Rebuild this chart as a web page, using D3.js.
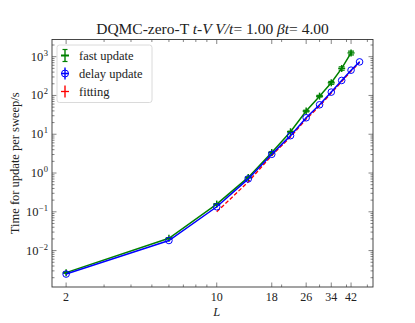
<!DOCTYPE html>
<html>
<head>
<meta charset="utf-8">
<script src="https://cdn.jsdelivr.net/npm/d3@7"></script>
<style>
  html, body { margin: 0; padding: 0; background: #fff; overflow: hidden; }
  svg { display: block; }
  text { font-family: "Liberation Serif", "DejaVu Serif", serif; fill: #222; }
</style>
<script>
var width = 415
var height = 323

// data
const fastL = [2, 6, 10, 14, 18, 22, 26, 30, 34, 38, 42];
const fastT = [0.0027, 0.0207, 0.158, 0.77, 3.4, 11.6, 39.6, 96, 212, 497, 1250];
const fastErr = [0.0001, 0.0006, 0.004, 0.02, 0.08, 0.4, 2, 5, 18, 50, 140];

const delayL = [2, 6, 10, 14, 18, 22, 26, 30, 34, 38, 42, 46];
const delayT = [0.00248, 0.0182, 0.135, 0.705, 3.04, 9.2, 26.6, 57.5, 122, 244, 449, 734];
const delayErr = [0.00005, 0.0003, 0.002, 0.01, 0.04, 0.15, 0.4, 0.9, 2, 4, 7, 12];

const fitL = [10, 14, 18, 22, 26, 30, 34, 38, 42, 46];
const fitT = [0.1, 0.59, 2.83, 8.5, 24.6, 53, 115, 228, 424, 701];

const xTickValues = [2, 10, 18, 26, 34, 42];
const xMinorTicks = [3, 4, 5, 6, 7, 8, 9, 20, 30, 40, 50];
const yExponents = [-2, -1, 0, 1, 2, 3];

const yAxisLabel = "Time for update per sweep/s";

const render = () => {
    const svg = d3.select("#chart").append("svg")
        .attr("width", width)
        .attr("height", height);

    const margin = {top: 39.5, right: 42, bottom: 36, left: 52};
    const innerWidth = width - margin.left - margin.right;
    const innerHeight = height - margin.top - margin.bottom;

    const xScale = d3.scaleLog()
        .domain([1.72, 53.1])
        .range([0, innerWidth]);

    const yScale = d3.scaleLog()
        .domain([Math.pow(10, -2.939), Math.pow(10, 3.443)])
        .range([innerHeight, 0]);

    const g = svg.append("g")
        .attr("transform", `translate(${margin.left}, ${margin.top})`);

    // minor y ticks
    let yMinor = [];
    for (let e = -3; e <= 3; e++) {
        for (let k = 2; k <= 9; k++) {
            const v = k * Math.pow(10, e);
            if (v > yScale.domain()[0] && v < yScale.domain()[1]) yMinor.push(v);
        }
    }
    const yMajor = yExponents.map(e => Math.pow(10, e));

    const tickColor = "#333";
    // ticks pointing inward on all four sides
    const drawTicks = (vals, len) => {
        vals.forEach(v => {
            const x = xScale(v);
            g.append("line").attr("x1", x).attr("x2", x).attr("y1", innerHeight).attr("y2", innerHeight - len)
                .attr("stroke", tickColor).attr("stroke-width", 0.6);
            g.append("line").attr("x1", x).attr("x2", x).attr("y1", 0).attr("y2", len)
                .attr("stroke", tickColor).attr("stroke-width", 0.6);
        });
    };
    drawTicks(xTickValues, 4.5);
    drawTicks(xMinorTicks, 2.5);

    const drawYTicks = (vals, len) => {
        vals.forEach(v => {
            const y = yScale(v);
            g.append("line").attr("x1", 0).attr("x2", len).attr("y1", y).attr("y2", y)
                .attr("stroke", tickColor).attr("stroke-width", 0.6);
            g.append("line").attr("x1", innerWidth).attr("x2", innerWidth - len).attr("y1", y).attr("y2", y)
                .attr("stroke", tickColor).attr("stroke-width", 0.6);
        });
    };
    drawYTicks(yMajor, 4.5);
    drawYTicks(yMinor, 2.5);

    // x tick labels
    xTickValues.forEach(v => {
        g.append("text")
            .attr("x", xScale(v))
            .attr("y", innerHeight + 14)
            .attr("text-anchor", "middle")
            .attr("font-size", "12px")
            .text(v);
    });

    // y tick labels 10^n (exponent as its own text)
    yExponents.forEach(e => {
        const y = yScale(Math.pow(10, e));
        const expText = e < 0 ? "\u2212" + (-e) : String(e);
        const ex = g.append("text")
            .attr("x", -4)
            .attr("y", y - 1)
            .attr("text-anchor", "end")
            .attr("font-size", "8.5px")
            .text(expText);
        const w = ex.node().getComputedTextLength();
        g.append("text")
            .attr("x", -4 - w - 0.5)
            .attr("y", y + 4)
            .attr("text-anchor", "end")
            .attr("font-size", "12.5px")
            .text("10");
    });

    // frame
    g.append("rect")
        .attr("width", innerWidth)
        .attr("height", innerHeight)
        .attr("fill", "none")
        .attr("stroke", "#333")
        .attr("stroke-width", 0.9);

    const line = d3.line()
        .x(d => xScale(d[0]))
        .y(d => yScale(d[1]));

    // fit line (dashed red)
    g.append("path")
        .attr("d", line(d3.zip(fitL, fitT)))
        .attr("fill", "none")
        .attr("stroke", "#ff0000")
        .attr("stroke-width", 1.3)
        .attr("stroke-dasharray", "4,2");

    // fast update (green)
    const green = "#008000";
    g.append("path")
        .attr("d", line(d3.zip(fastL, fastT)))
        .attr("fill", "none")
        .attr("stroke", green)
        .attr("stroke-width", 1.5);

    d3.zip(fastL, fastT, fastErr).forEach(d => {
        const x = xScale(d[0]);
        const y0 = yScale(d[1] - d[2]), y1 = yScale(d[1] + d[2]);
        g.append("line").attr("x1", x).attr("x2", x).attr("y1", y0).attr("y2", y1)
            .attr("stroke", green).attr("stroke-width", 1.2);
        [y0, y1].forEach(yy => g.append("line").attr("x1", x - 3).attr("x2", x + 3).attr("y1", yy).attr("y2", yy)
            .attr("stroke", green).attr("stroke-width", 1.2));
        const y = yScale(d[1]);
        g.append("line").attr("x1", x - 3.5).attr("x2", x + 3.5).attr("y1", y).attr("y2", y)
            .attr("stroke", green).attr("stroke-width", 1.5);
        g.append("line").attr("x1", x).attr("x2", x).attr("y1", y - 3.5).attr("y2", y + 3.5)
            .attr("stroke", green).attr("stroke-width", 1.5);
    });

    // delay update (blue)
    const blue = "#0000ff";
    g.append("path")
        .attr("d", line(d3.zip(delayL, delayT)))
        .attr("fill", "none")
        .attr("stroke", blue)
        .attr("stroke-width", 1.5);

    d3.zip(delayL, delayT, delayErr).forEach(d => {
        const x = xScale(d[0]);
        const y0 = yScale(d[1] - d[2]), y1 = yScale(d[1] + d[2]);
        g.append("line").attr("x1", x).attr("x2", x).attr("y1", y0).attr("y2", y1)
            .attr("stroke", blue).attr("stroke-width", 1.2);
        g.append("circle")
            .attr("cx", x)
            .attr("cy", yScale(d[1]))
            .attr("r", 3.3)
            .attr("fill", "none")
            .attr("stroke", blue)
            .attr("stroke-width", 1);
    });

    // legend
    const legend = svg.append("g").attr("transform", "translate(57, 45)");
    legend.append("rect")
        .attr("width", 95)
        .attr("height", 57.5)
        .attr("rx", 2.5)
        .attr("fill", "white")
        .attr("fill-opacity", 0.8)
        .attr("stroke", "#d0d0d0")
        .attr("stroke-width", 0.8);

    const legendItems = [
        {label: "fast update", color: green, kind: "plus"},
        {label: "delay update", color: blue, kind: "circle"},
        {label: "fitting", color: "#ff0000", kind: "bar"}
    ];
    legendItems.forEach((item, i) => {
        const row = legend.append("g").attr("transform", `translate(8, ${10.5 + i * 18})`);
        row.append("line").attr("x1", 0).attr("x2", 0).attr("y1", -6).attr("y2", 6)
            .attr("stroke", item.color).attr("stroke-width", 1.4);
        if (item.kind === "plus") {
            row.append("line").attr("x1", -4).attr("x2", 4).attr("y1", 0).attr("y2", 0)
                .attr("stroke", item.color).attr("stroke-width", 2);
            row.append("line").attr("x1", -2.5).attr("x2", 2.5).attr("y1", -6).attr("y2", -6)
                .attr("stroke", item.color).attr("stroke-width", 1.2);
            row.append("line").attr("x1", -2.5).attr("x2", 2.5).attr("y1", 6).attr("y2", 6)
                .attr("stroke", item.color).attr("stroke-width", 1.2);
        } else if (item.kind === "circle") {
            row.append("line").attr("x1", -4).attr("x2", 4).attr("y1", 0).attr("y2", 0)
                .attr("stroke", item.color).attr("stroke-width", 1.5);
            row.append("circle").attr("r", 3.5).attr("fill", "none")
                .attr("stroke", item.color).attr("stroke-width", 1);
        } else {
            row.append("line").attr("x1", -4).attr("x2", 4).attr("y1", 0).attr("y2", 0)
                .attr("stroke", item.color).attr("stroke-width", 1.3);
        }
        row.append("text")
            .attr("x", 14)
            .attr("y", 4)
            .attr("font-size", "12.5px")
            .text(item.label);
    });

    // title, built from pieces so the math parts are italic
    const titleParts = [
        {t: "DQMC-zero-T ", it: false},
        {t: "t", it: true},
        {t: "-", it: false},
        {t: "V V/t", it: true},
        {t: "= 1.00 ", it: false},
        {t: "\u03B2t", it: true},
        {t: "= 4.00", it: false}
    ];
    const titleG = svg.append("g");
    let cursor = 0;
    titleParts.forEach(p => {
        const el = titleG.append("text")
            .attr("x", cursor)
            .attr("y", 34)
            .attr("font-size", "15.5px")
            .attr("font-style", p.it ? "italic" : "normal")
            .style("white-space", "pre")
            .text(p.t);
        cursor += el.node().getComputedTextLength();
    });
    titleG.attr("transform", `translate(${margin.left + innerWidth / 2 - cursor / 2}, 0)`);

    // axis labels
    svg.append("text")
        .attr("x", margin.left + xScale(10))
        .attr("y", 316)
        .attr("text-anchor", "middle")
        .attr("font-size", "12.5px")
        .attr("font-style", "italic")
        .text("L");

    svg.append("text")
        .attr("transform", `translate(19, ${margin.top + innerHeight / 2}) rotate(-90)`)
        .attr("text-anchor", "middle")
        .attr("font-size", "12.5px")
        .text(yAxisLabel);
};

document.addEventListener("DOMContentLoaded", render);
</script>
</head>
<body>
<div id="chart"></div>
</body>
</html>
